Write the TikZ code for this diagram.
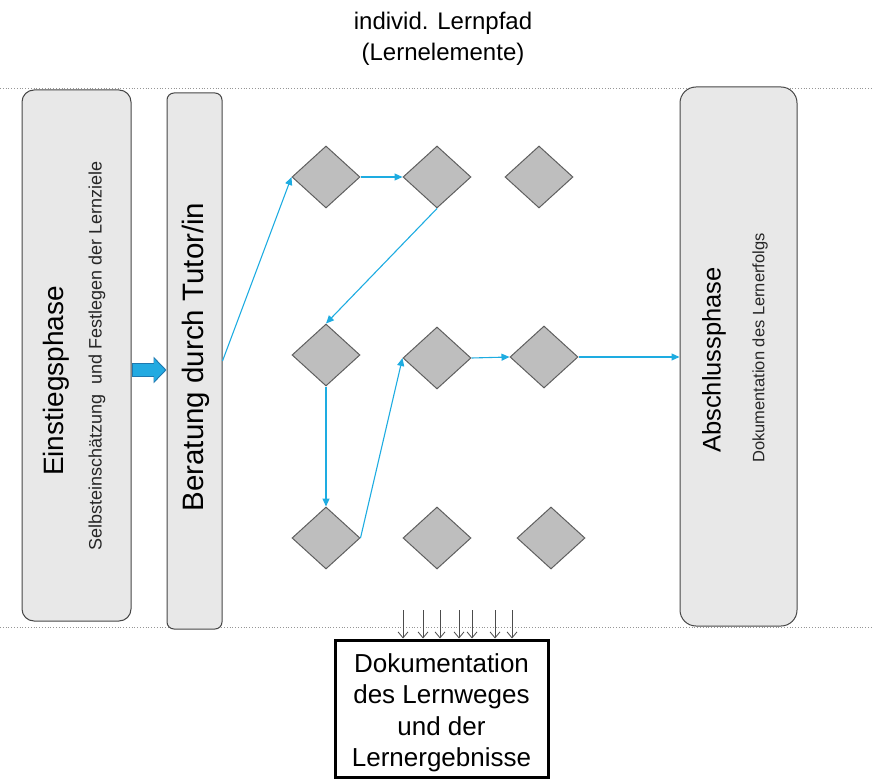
\documentclass[tikz,border=0pt]{standalone}
\usepackage{fontspec}
\setmainfont{Liberation Sans}
\usetikzlibrary{shapes.geometric,arrows.meta,calc}
\definecolor{boxfill}{RGB}{232,232,232}
\definecolor{boxline}{RGB}{70,70,70}
\definecolor{diafill}{RGB}{190,190,190}
\definecolor{dialine}{RGB}{95,95,95}
\definecolor{flow}{RGB}{30,172,225}
\definecolor{bigarr}{RGB}{35,170,225}
\definecolor{bigarrline}{RGB}{30,120,175}
\definecolor{dotline}{RGB}{150,150,150}
\begin{document}
\begin{tikzpicture}[x=1pt,y=-1pt,
  phase/.style={draw=boxline, fill=boxfill, line width=1pt, inner sep=0pt, rectangle},
  elem/.style={diamond, draw=dialine, fill=diafill, line width=1pt, inner sep=0pt,
               minimum width=68pt, minimum height=62pt},
  flowarrow/.style={draw=flow, line width=1.1pt, -{Triangle[length=8pt,width=7pt]}},
  bigtext/.style={rotate=90, inner sep=0pt, font=\fontsize{28}{32}\selectfont},
  subtext/.style={rotate=90, inner sep=0pt, text=black!85},
  smallarrow/.style={draw=black!70, line width=0.8pt, -{Straight Barb[length=6pt,width=10pt]}},
  sepline/.style={draw=dotline, dotted, line width=0.8pt}
]
\useasboundingbox (0,0) rectangle (872,783);

% title
\node[align=center, font=\fontsize{24}{31}\selectfont] (title) at (443,39)
  {individ. Lernpfad\\(Lernelemente)};

% separator lines
\draw[sepline] (0,88) -- (872,88);
\draw[sepline] (0,627) -- (872,627);

% phase boxes
\node[phase, rounded corners=12pt, minimum width=109pt, minimum height=531pt] (box1) at (76.5,355.5) {};
\node[phase, rounded corners=7pt, minimum width=55pt, minimum height=536pt] (box2) at (194.5,361) {};
\node[phase, rounded corners=16pt, minimum width=117pt, minimum height=539pt] (box3) at (738.5,356.5) {};

\node[bigtext] (t1) at (56,381) {Einstiegsphase};
\node[subtext, font=\fontsize{18}{20}\selectfont] (s1) at (97,356) {Selbsteinschätzung\ \ und Festlegen der Lernziele};
\node[bigtext, font=\fontsize{29.5}{32}\selectfont] (t2) at (196,357) {Beratung durch Tutor/in};
\node[bigtext, font=\fontsize{25.5}{30}\selectfont] (t3) at (714,360) {Abschlussphase};
\node[subtext, font=\fontsize{16.5}{20}\selectfont] (s3) at (760,348) {Dokumentation des Lernerfolgs};

% big arrow between box1 and box2
\coordinate (yref) at (0,370);
\draw[bigarrline, line width=14pt, -{Triangle[length=13pt,width=26pt]}]
  (box1.east |- yref) -- (box2.west |- yref);
\draw[bigarr, line width=12pt, -{Triangle[length=11pt,width=22pt]}]
  ($(box1.east |- yref)+(1,0)$) -- ($(box2.west |- yref)+(-1.5,0)$);

% learning elements
\node[elem] (d11) at (326,177) {};
\node[elem] (d12) at (437,177) {};
\node[elem] (d13) at (539,177) {};
\node[elem] (d21) at (326,355) {};
\node[elem] (d22) at (437,358) {};
\node[elem] (d23) at (544,357) {};
\node[elem] (d31) at (326,538) {};
\node[elem] (d32) at (437,538) {};
\node[elem] (d33) at (551,538) {};

% learning path
\draw[flowarrow] (box2.east) -- (d11.west);
\draw[flowarrow] (d11.east) -- (d12.west);
\draw[flowarrow] (d12.south) -- (d21.north);
\draw[flowarrow] (d21.south) -- (d31.north);
\draw[flowarrow] (d31.east) -- (d22.west);
\draw[flowarrow] (d22.east) -- (d23.west);
\draw[flowarrow] (d23.east) -- (box3.west |- d23.east);

% documentation box
\node[draw=black, line width=3pt, minimum width=213pt, minimum height=137pt, inner sep=0pt] (doku) at (441.5,708.5) {};
\node[align=center, inner sep=0pt, font=\fontsize{26}{31.5}\selectfont] (dokutext) at (441.5,713)
  {Dokumentation\\des Lernweges\\und der\\Lernergebnisse};

\foreach \x in {403,423,440,459,472,495,512}{
  \coordinate (a\x) at (\x,610);
  \draw[smallarrow] (a\x) -- (a\x |- doku.north);
}
\end{tikzpicture}
\end{document}
